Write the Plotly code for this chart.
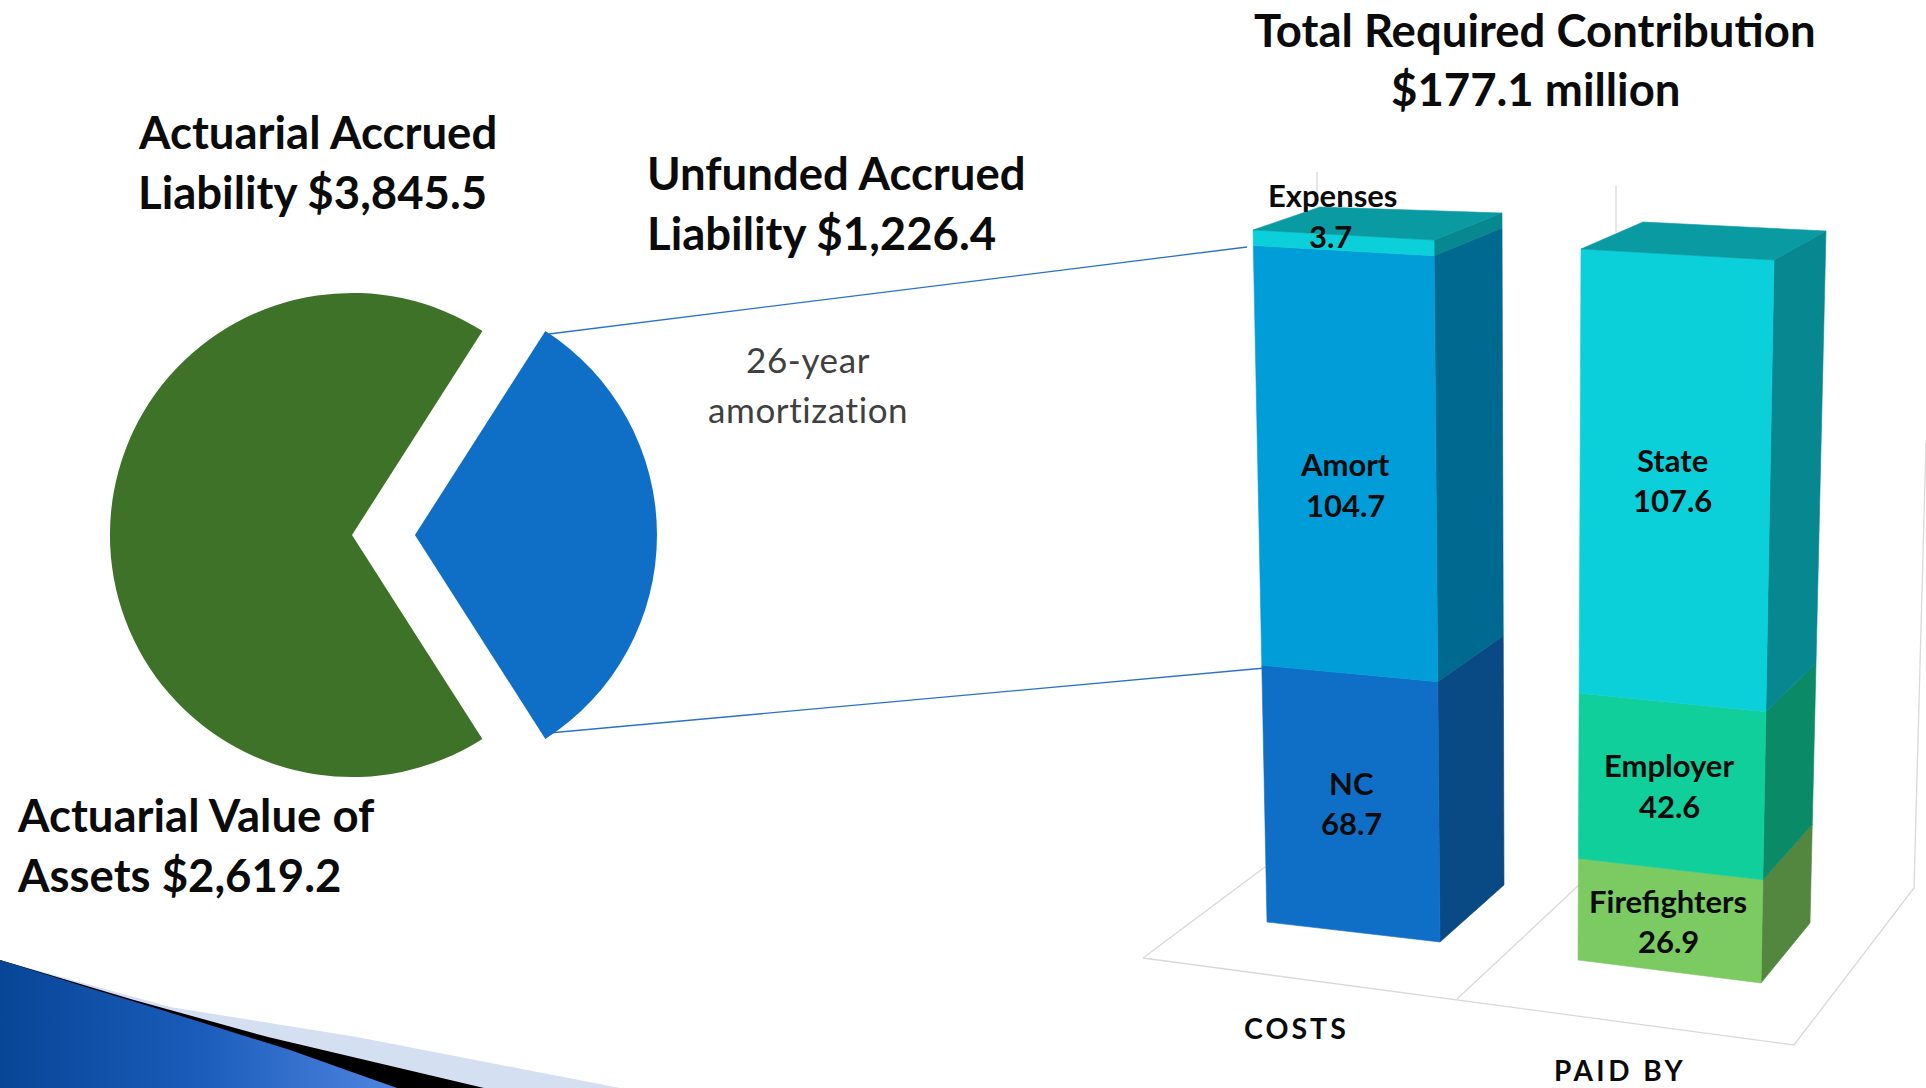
import plotly.graph_objects as go

# ---------- data ----------
pie_labels = ["Unfunded Accrued Liability", "Actuarial Value of Assets"]
pie_values = [1226.4, 2619.2]
accrued_liability = 3845.5
cost_names = ["NC", "Amort", "Expenses"]
cost_values = [68.7, 104.7, 3.7]
paid_names = ["Firefighters", "Employer", "State"]
paid_values = [26.9, 42.6, 107.6]
total_contribution = 177.1

# ---------- styles ----------
FONT = "Lato"
INK = "#0b0b0b"
COLORS = {"NC": "#0F6FC6", "Amort": "#009DD9", "Expenses": "#0BD0D9",
          "Firefighters": "#7CCA62", "Employer": "#10CF9B", "State": "#0BD0D9"}
SIDE = {"NC": "#0A4A84", "Amort": "#00698F", "Expenses": "#078790",
        "Firefighters": "#53873F", "Employer": "#0B8A68", "State": "#078790"}
TOP_COLOR = "#0A9AA2"
GRID = "#d9d9d9"

# Projection of the 3-D chart box: each edge runs from value 0 to the full total
COST_BOX = {"fl": ((1267, 922), (1253, 230)), "fr": ((1440, 942), (1434, 240)),
            "br": ((1504, 885), (1502, 213)), "bl": (None, (1320, 207))}
PAID_BOX = {"fl": ((1578, 960), (1581, 249)), "fr": ((1761, 983), (1774, 260)),
            "br": ((1810, 923), (1826, 231)), "bl": (None, (1643, 222))}
PERSPECTIVE = 1.075


def project(box, edge, value):
    t = value / total_contribution
    s = t / (PERSPECTIVE + (1 - PERSPECTIVE) * t)
    (x0, y0), (x1, y1) = box[edge]
    return x0 + (x1 - x0) * s, y0 + (y1 - y0) * s


def polygon(points, color, name):
    xs = [p[0] for p in points] + [points[0][0]]
    ys = [p[1] for p in points] + [points[0][1]]
    return go.Scatter(x=xs, y=ys, mode="lines", fill="toself", fillcolor=color,
                      line=dict(color=color, width=0.6), hoverinfo="name", name=name,
                      showlegend=False)


def segment(x, y, color=GRID, width=1.3):
    return go.Scatter(x=x, y=y, mode="lines", line=dict(color=color, width=width),
                      hoverinfo="skip", showlegend=False)


fig = go.Figure()

# swoosh decoration in the slide corner
fig.add_trace(go.Scatter(x=[0, 170, 357, 620, 0, 0], y=[960, 1007, 1037, 1088, 1088, 960],
                         mode="lines", fill="toself", fillcolor="#d5dff2",
                         line=dict(width=0), hoverinfo="skip", showlegend=False))
fig.add_trace(go.Scatter(x=[0, 134, 268, 484, 0, 0], y=[960, 1000, 1037, 1088, 1088, 960],
                         mode="lines", fill="toself", fillcolor="#000000",
                         line=dict(width=0), hoverinfo="skip", showlegend=False))
fig.add_trace(go.Scatter(x=[0, 89, 152, 290, 397, 0, 0], y=[960, 988, 1007, 1050, 1088, 1088, 960],
                         mode="lines", fill="toself",
                         fillgradient=dict(type="horizontal",
                                           colorscale=[[0, "#074596"], [0.5, "#1a5cba"], [1, "#4f85e0"]]),
                         line=dict(width=0), hoverinfo="skip", showlegend=False))

# chart floor and walls
fig.add_trace(segment([1143, 1794, 1914, 1926], [958, 1045, 888, 443]))
fig.add_trace(segment([1143, 1265], [958, 867]))
fig.add_trace(segment([1457, 1579], [999, 885]))
fig.add_trace(segment([1317, 1317], [172, 207]))
fig.add_trace(segment([1616, 1616], [186, 232]))

# connectors from the pie slice to the cost bar
fig.add_trace(segment([549, 1247], [334, 247], color="#2a72c8", width=1.3))
fig.add_trace(segment([549, 1265], [733, 668], color="#2a72c8", width=1.3))


def add_bar(box, names, values):
    base = 0.0
    for name, value in zip(names, values):
        top = base + value
        fig.add_trace(polygon([project(box, "fr", base), project(box, "br", base),
                               project(box, "br", top), project(box, "fr", top)],
                              SIDE[name], name))
        fig.add_trace(polygon([project(box, "fl", base), project(box, "fr", base),
                               project(box, "fr", top), project(box, "fl", top)],
                              COLORS[name], name))
        base = top
    corners = [box["fl"][1], box["fr"][1], box["br"][1], box["bl"][1]]
    fig.add_trace(polygon(corners, TOP_COLOR, names[-1]))


add_bar(COST_BOX, cost_names, cost_values)
add_bar(PAID_BOX, paid_names, paid_values)

# pie
fig.add_trace(go.Pie(labels=pie_labels, values=pie_values, sort=False, direction="clockwise",
                     rotation=32.6, pull=[0.26, 0], textinfo="none", showlegend=False,
                     marker=dict(colors=["#0F6FC6", "#3D7228"], line=dict(width=0)),
                     domain=dict(x=[47 / 1926, 657 / 1926], y=[1 - 840 / 1088, 1 - 230 / 1088])))


def label(x, y, text, size, anchor="center", weight=700, color=INK, spacing=0):
    style = f"letter-spacing:{spacing}px" if spacing else None
    shown = f'<span style="{style}">{text}</span>' if style else text
    fig.add_annotation(x=x, y=y, text=shown, showarrow=False, xanchor=anchor, yanchor="middle",
                       font=dict(family=FONT, size=size, color=color, weight=weight))


# headings
label(1535, 29, "Total Required Contribution", 45.5)
label(1535, 88, f"${total_contribution} million", 45.5)
label(645, 172, "Unfunded Accrued", 45.5, "left")
label(645, 232, f"Liability ${pie_values[0]:,.1f}", 45.5, "left")
label(136, 131, "Actuarial Accrued", 45.5, "left")
label(136, 191, f"Liability ${accrued_liability:,.1f}", 45.5, "left")
label(15, 814, "Actuarial Value of", 45.5, "left")
label(15, 874, f"Assets ${pie_values[1]:,.1f}", 45.5, "left")
label(808, 359, "26-year", 35, weight=400, color="#404040", spacing=0.6)
label(808, 409, "amortization", 35, weight=400, color="#404040", spacing=0.6)

# bar labels
LABEL_AT = {"Expenses": (1332, 195, 1330, 236), "Amort": (1345, 464, 1345, 505),
            "NC": (1351, 783, 1351, 823), "State": (1672, 460, 1672, 500),
            "Employer": (1669, 765, 1669, 806), "Firefighters": (1668, 901, 1668, 941)}
for name, value in list(zip(cost_names, cost_values)) + list(zip(paid_names, paid_values)):
    xa, ya, xb, yb = LABEL_AT[name]
    label(xa, ya, name, 31)
    label(xb, yb, f"{value}", 31)

label(1296, 1028, "COSTS", 28.5, spacing=3)
label(1620, 1070, "PAID BY", 28, spacing=3.5)

fig.update_layout(width=1926, height=1088, margin=dict(l=0, r=0, t=0, b=0), autosize=False,
                  paper_bgcolor="white", plot_bgcolor="white",
                  xaxis=dict(visible=False, range=[0, 1926], fixedrange=True),
                  yaxis=dict(visible=False, range=[1088, 0], fixedrange=True))

fig.write_html("out.html", config={"displayModeBar": False},
               post_script="document.body.style.margin='0';document.documentElement.style.overflow='hidden';")
